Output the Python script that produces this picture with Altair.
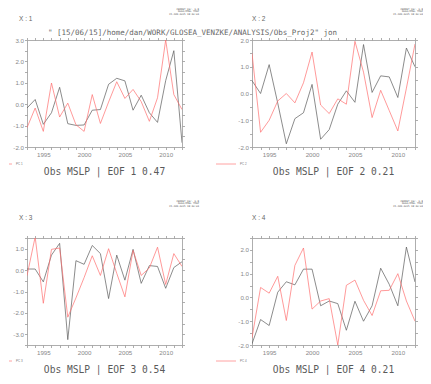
import altair as alt
import pandas as pd

years = list(range(1993, 2013))

# PC time series (black) and projection (red) for each EOF panel
eof1_black = [-0.18, 0.22, -0.94, -0.40, 0.79, -0.91, -0.99, -0.97, -0.28, -0.25,
              0.93, 1.21, 1.09, -0.28, 0.42, -0.40, -0.85, 1.10, 2.50, -1.80]
eof1_red = [-1.10, -0.18, -1.27, 0.99, -0.60, 0.05, -0.96, -1.27, 0.45, -0.90,
            0.10, 1.05, 0.27, 0.69, 0.12, -0.80, 0.30, 3.00, 0.45, -0.25]
eof2_black = [0.48, 0.00, 1.08, -0.36, -1.88, -0.94, -0.72, 0.34, -1.71, -1.35,
              -0.40, 0.10, -0.33, 1.83, 0.04, 0.66, 0.62, -0.15, 1.70, 1.00]
eof2_red = [1.50, -1.45, -1.00, -0.28, 0.00, -0.35, 0.40, 1.55, -0.43, -0.75,
            -0.20, -0.40, 1.95, 0.80, -0.90, 0.12, -0.64, -1.40, 0.20, 1.85]
eof3_black = [0.05, 0.05, -0.55, 0.70, 1.25, -3.25, 0.44, 0.27, 1.15, 0.77,
              -1.33, 0.70, -0.47, 0.97, -0.62, 0.21, 0.17, -0.85, 0.12, 0.39]
eof3_red = [-0.26, 1.55, -1.55, 0.97, 1.03, -2.20, -1.30, -0.35, 0.67, -0.25,
            1.00, -0.15, -1.25, 0.92, -0.25, 0.10, 1.07, -0.67, 0.77, 0.17]
eof4_black = [-1.95, -0.93, -1.18, 0.22, 0.66, 0.53, 1.19, 1.19, -0.35, -0.15,
              -0.26, -1.38, -0.16, -1.00, -0.35, 1.23, 0.55, -0.35, 2.12, 0.65]
eof4_red = [-1.70, 0.42, 0.18, 0.89, -0.97, 1.35, 2.08, -0.49, -0.15, -0.05,
            -2.00, 0.51, 0.73, -0.12, -0.76, 0.28, 0.30, 1.00, -0.15, -1.00]

titles = ["Obs MSLP | EOF 1 0.47", "Obs MSLP | EOF 2 0.21",
          "Obs MSLP | EOF 3 0.54", "Obs MSLP | EOF 4 0.21"]
xlabels = ["X : 1", "X : 2", "X : 3", "X : 4"]
legend_labels = ["PC 1", "PC 2", "PC 3", "PC 4"]
path_text = '" [15/06/15]/home/dan/WORK/GLOSEA_VENZKE/ANALYSIS/Obs_Proj2" jon'
header_lines = ["FERRET Ver. 6.8", "NOAA/PMEL TMAP", "15-JUN-2015 18:30:04"]
y_domains = [[-2.0, 3.0], [-2.0, 2.0], [-3.5, 1.5], [-2.0, 2.5]]

AX = "#999999"
LAB = "#888888"
SANS = "Liberation Sans"
MONO = "DejaVu Sans Mono"
MINUS = "\u2212"


def txt(s, x, y, size, color, align="left", baseline="middle", font=SANS):
    return alt.Chart(pd.DataFrame({"t": [s]})).mark_text(
        align=align, baseline=baseline, fontSize=size, color=color, font=font
    ).encode(text="t:N", x=alt.value(x), y=alt.value(y))


def panel(i, black, red, w, h, left_col, top_row):
    ydom = y_domains[i]
    n = int(round((ydom[1] - ydom[0]) / 0.5))
    yticks = [ydom[0] + 0.5 * k for k in range(n + 1)]
    df = pd.DataFrame({
        "year": years + years,
        "value": black + red,
        "series": ["pc"] * len(years) + ["proj"] * len(years),
    })
    xs = alt.Scale(domain=[1993, 2012], nice=False, zero=False)
    ys = alt.Scale(domain=ydom, nice=False, zero=False)
    common = dict(domainColor=AX, tickColor=AX, domainWidth=0.8, tickWidth=0.8,
                  grid=False, title=None, labelFont=SANS, labelFontSize=6.2,
                  labelColor=LAB, tickSize=2.5)
    xlab = "datum.value % 5 == 0 ? format(datum.value, 'd') : ''"
    ylab = ("abs(datum.value % 1) < 0.001 ? replace(format(datum.value, '.1f'), '"
            + MINUS + "', '-') : ''")
    frame = alt.Chart(df).mark_point(opacity=0).encode(
        x=alt.X("year:Q", scale=xs,
                axis=alt.Axis(orient="top", values=years, labels=False, **common)),
        y=alt.Y("value:Q", scale=ys,
                axis=alt.Axis(orient="right", values=yticks, labels=False, **common)),
    )
    lines = alt.Chart(df).mark_line(strokeWidth=0.7, clip=True).encode(
        x=alt.X("year:Q", scale=xs,
                axis=alt.Axis(orient="bottom", values=years, labelExpr=xlab,
                              labelPadding=2, labelOverlap=False, **common)),
        y=alt.Y("value:Q", scale=ys,
                axis=alt.Axis(orient="left", values=yticks, labelExpr=ylab,
                              labelPadding=1, labelOverlap=False, **common)),
        color=alt.Color("series:N",
                        scale=alt.Scale(domain=["pc", "proj"], range=["#5a5a5a", "#ff6e6e"]),
                        legend=None),
    )
    layers = [frame, lines]
    top = -32 if top_row else -38
    hx = 172 if left_col else 171
    for k, s in enumerate(header_lines):
        layers.append(txt(s, hx, top + 2.6 * k, 2.5, "#555555", align="right",
                          baseline="top", font=MONO))
    layers.append(txt(xlabels[i], -8 if left_col else 0, -21 if top_row else -20,
                      6.5, "#666666"))
    if i == 0:
        layers.append(txt(path_text, 21, -7, 7.5, "#666666", font=MONO))
    # legend sample
    if left_col:
        lx1, lx2, tx = -18, -15, -11
    else:
        lx1, lx2, tx = -36, -16, -12
    ly = h + 17 if top_row else h + 16
    layers.append(
        alt.Chart(pd.DataFrame({"a": [0]})).mark_rule(color="#ff8a8a", strokeWidth=0.8)
        .encode(x=alt.value(lx1), x2=alt.value(lx2), y=alt.value(ly))
    )
    layers.append(txt(legend_labels[i], tx, ly, 3, "#777777"))
    layers.append(txt(titles[i], w / 2, h + 25, 9.6, "#5a5a5a", align="center", font=MONO))
    return alt.layer(*layers).resolve_axis(x="independent", y="independent").properties(
        width=w, height=h)


H = 107
p1 = panel(0, eof1_black, eof1_red, 155, H, True, True)
p2 = panel(1, eof2_black, eof2_red, 163, H, False, True)
p3 = panel(2, eof3_black, eof3_red, 155, H, True, False)
p4 = panel(3, eof4_black, eof4_red, 163, H, False, False)

chart = alt.concat(
    p1, p2, p3, p4, columns=2,
    spacing={"row": 91, "column": 70},
    bounds="flush", align="each", padding=0,
).configure_view(stroke=None)

chart.save("out.html", embed_options={"renderer": "svg", "actions": False})
